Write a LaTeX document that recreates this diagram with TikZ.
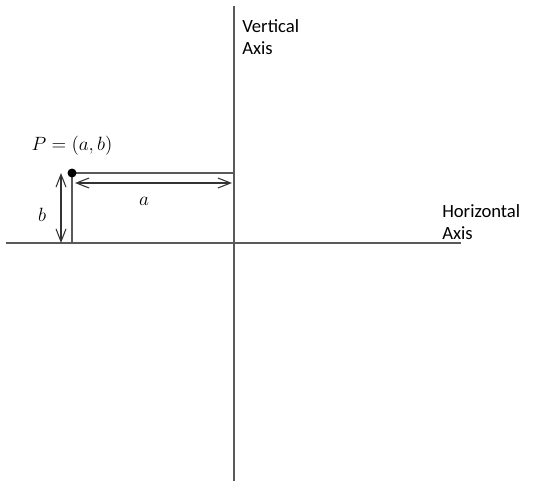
\documentclass[tikz,border=0pt]{standalone}
\usepackage{fontspec}
\setmainfont{Carlito}
\usetikzlibrary{arrows.meta}
\begin{document}
\begin{tikzpicture}[x=0.75pt,y=-0.75pt,
  axisline/.style={draw=black!65,line width=1.3pt},
  guide/.style={draw=black!65,line width=1.3pt},
  dimarrow/.style={draw=black!80,line width=0.8pt,{Straight Barb[length=9.5pt,width=7.5pt]}-{Straight Barb[length=9.5pt,width=7.5pt]}},
  lbl/.style={font=\fontsize{14pt}{16pt}\selectfont,align=left,inner sep=0pt},
  mlbl/.style={font=\fontsize{14pt}{16pt}\selectfont,inner sep=0pt}]
\useasboundingbox (0,0) rectangle (538,499);
% axes
\coordinate (hl) at (6,243);
\coordinate (hr) at (461,243);
\coordinate (vt) at (234,6);
\coordinate (vb) at (234,481);
\draw[axisline] (hl) -- (hr);
\draw[axisline] (vt) -- (vb);
% point
\coordinate (P) at (72,173);
\coordinate (Pfoot) at (72,243);
\coordinate (Pside) at (234,173);
\draw[guide] (P) -- (Pfoot);
\draw[guide] (P) -- (Pside);
\fill (P) circle (4.5);
% dimension arrows
\coordinate (a1) at (75,183);
\coordinate (a2) at (232,183);
\draw[dimarrow] (a1) -- (a2);
\coordinate (b1) at (61,173);
\coordinate (b2) at (61,243);
\draw[dimarrow] (b1) -- (b2);
% labels
\node[mlbl] (la) at (144,201) {$a$};
\node[mlbl] (lb) at (42,215) {$b$};
\node[mlbl] (lP) at (72,146) {$P=(a,b)$};
\node[lbl,anchor=west] (lv) at (242,37) {Vertical\\Axis};
\node[lbl,anchor=west] (lh) at (442,222) {Horizontal\\Axis};
\end{tikzpicture}
\end{document}
